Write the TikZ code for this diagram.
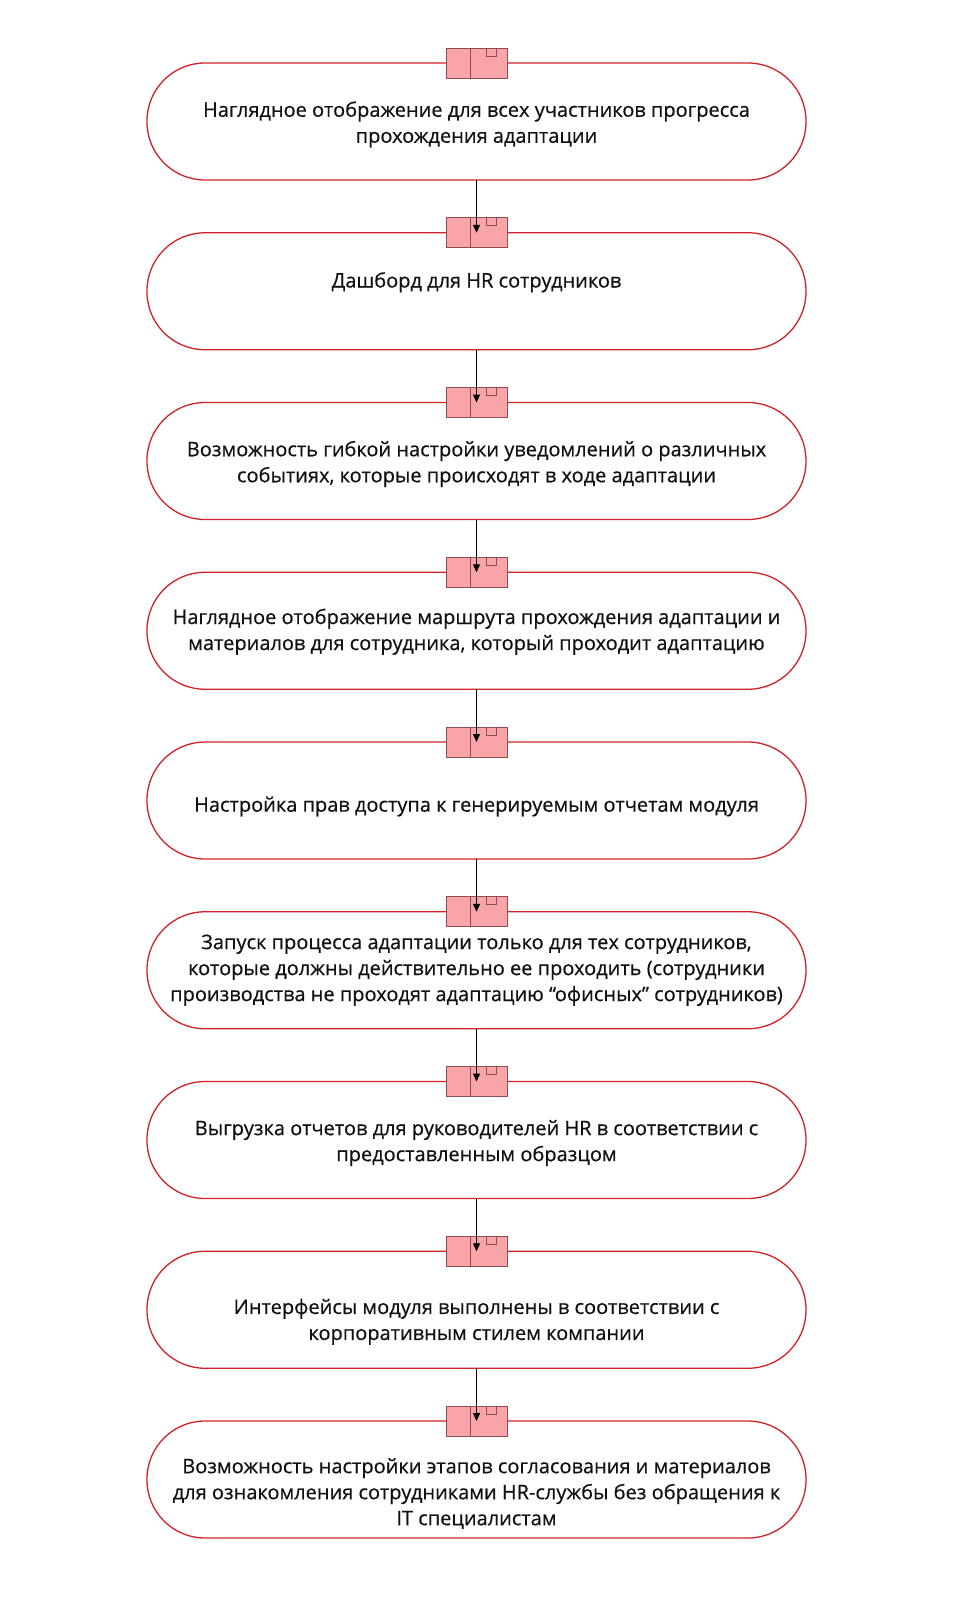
\documentclass[tikz,border=0pt]{standalone}
\usepackage{fontspec}
\setmainfont{Open Sans}
\newfontfamily\capfont{Open Sans}[FakeBold=0.5]
\usetikzlibrary{positioning,arrows.meta}
\definecolor{capsred}{HTML}{CF2229}
\definecolor{tabpink}{HTML}{F8A4A8}
\definecolor{tabedge}{HTML}{8C4E50}
\definecolor{txtblack}{HTML}{111111}

\begin{document}
\begin{tikzpicture}[x=1pt,y=1pt,
	capsule/.style={draw=capsred,line width=1.3pt,rounded corners=58pt,minimum width=659pt,minimum height=117pt,inner sep=0pt,outer sep=0pt},
	caption/.style={text=txtblack,font=\capfont\fontsize{20}{26}\selectfont,align=center,inner sep=0pt,yshift=-3pt},
	tab/.style={draw=tabedge,fill=tabpink,line width=0.9pt,minimum width=61pt,minimum height=30pt,inner sep=0pt,outer sep=0pt,
		path picture={
			\draw[tabedge,line width=0.9pt]([xshift=-5.8pt]path picture bounding box.north)--([xshift=-5.8pt]path picture bounding box.south);
			\draw[tabedge,line width=0.9pt]([xshift=10.2pt]path picture bounding box.north)rectangle([xshift=19.5pt,yshift=-8pt]path picture bounding box.north);}},
	flow/.style={-{Triangle[width=7pt,length=8pt]},line width=1.3pt,black}]
%	\draw[help lines, color=black!30, step=100pt,ultra thin](0,-1600)grid(953,0);
	\useasboundingbox[fill=white](0,0)rectangle(953,-1600);
	
	% capsules
	\node[capsule] (b1) at (476.5,-121.5) {};
	\node[capsule,below=52.75pt of b1] (b2) {};
	\node[capsule,below=52.75pt of b2] (b3) {};
	\node[capsule,below=52.75pt of b3] (b4) {};
	\node[capsule,below=52.75pt of b4] (b5) {};
	\node[capsule,below=52.75pt of b5] (b6) {};
	\node[capsule,below=52.75pt of b6] (b7) {};
	\node[capsule,below=52.75pt of b7] (b8) {};
	\node[capsule,below=52.75pt of b8] (b9) {};
	
	% texts
	\node[caption] (t1) at (b1) {Наглядное отображение для всех участников прогресса\\прохождения адаптации};
	\node[caption,yshift=12pt] (t2) at (b2) {Дашборд для HR сотрудников};
	\node[caption] (t3) at (b3) {Возможность гибкой настройки уведомлений о различных\\событиях, которые происходят в ходе адаптации};
	\node[caption,yshift=2pt] (t4) at (b4) {Наглядное отображение маршрута прохождения адаптации и\\материалов для сотрудника, который проходит адаптацию};
	\node[caption,yshift=-3pt] (t5) at (b5) {Настройка прав доступа к генерируемым отчетам модуля};
	\node[caption,yshift=3pt] (t6) at (b6) {Запуск процесса адаптации только для тех сотрудников,\\которые должны действительно ее проходить (сотрудники\\производства не проходят адаптацию “офисных” сотрудников)};
	\node[caption] (t7) at (b7) {Выгрузка отчетов для руководителей HR в соответствии с\\предоставленным образцом};
	\node[caption,yshift=-9pt] (t8) at (b8) {Интерфейсы модуля выполнены в соответствии с\\корпоративным стилем компании};
	\node[caption,yshift=-11pt] (t9) at (b9) {Возможность настройки этапов согласования и материалов\\для ознакомления сотрудниками HR-службы без обращения к\\IT специалистам};
	
	% tabs
	\node[tab] (m1) at (b1.north) {};
	\node[tab] (m2) at (b2.north) {};
	\node[tab] (m3) at (b3.north) {};
	\node[tab] (m4) at (b4.north) {};
	\node[tab] (m5) at (b5.north) {};
	\node[tab] (m6) at (b6.north) {};
	\node[tab] (m7) at (b7.north) {};
	\node[tab] (m8) at (b8.north) {};
	\node[tab] (m9) at (b9.north) {};
	
	% arrows
	\draw[flow](b1.south)--(b2.north);
	\draw[flow](b2.south)--(b3.north);
	\draw[flow](b3.south)--(b4.north);
	\draw[flow](b4.south)--(b5.north);
	\draw[flow](b5.south)--(b6.north);
	\draw[flow](b6.south)--(b7.north);
	\draw[flow](b7.south)--(b8.north);
	\draw[flow](b8.south)--(b9.north);
	
\end{tikzpicture}
\end{document}
